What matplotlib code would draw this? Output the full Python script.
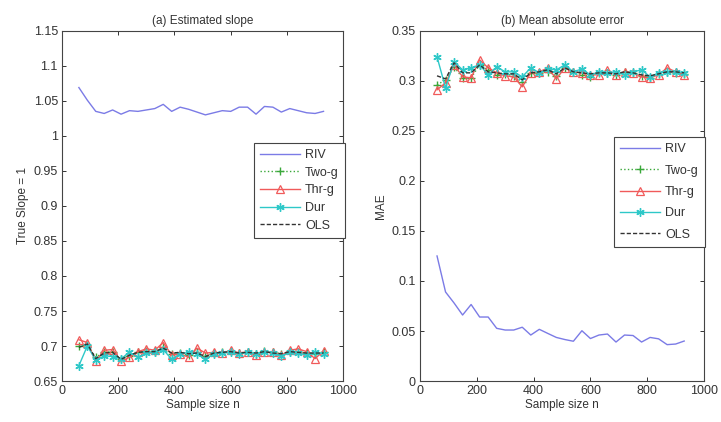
import matplotlib
matplotlib.use("Agg")
import matplotlib.pyplot as plt
from matplotlib.ticker import FixedLocator, FixedFormatter

plt.rcParams['font.family'] = ['Liberation Sans', 'DejaVu Sans']

n = list(range(60, 931, 30))

# (a) Estimated slope
slope_riv = [1.069, 1.051, 1.035, 1.032, 1.037, 1.031, 1.036, 1.035, 1.037, 1.039,
             1.045, 1.035, 1.041, 1.038, 1.034, 1.030, 1.033, 1.036, 1.035, 1.041,
             1.041, 1.031, 1.042, 1.041, 1.034, 1.039, 1.036, 1.033, 1.032, 1.035]
slope_two = [0.700, 0.701, 0.684, 0.691, 0.692, 0.681, 0.686, 0.691, 0.693, 0.692,
             0.698, 0.689, 0.690, 0.687, 0.691, 0.686, 0.690, 0.691, 0.693, 0.690,
             0.691, 0.689, 0.693, 0.691, 0.689, 0.692, 0.692, 0.690, 0.689, 0.691]
slope_thr = [0.709, 0.705, 0.678, 0.694, 0.695, 0.678, 0.684, 0.692, 0.696, 0.694,
             0.705, 0.687, 0.689, 0.684, 0.697, 0.690, 0.691, 0.690, 0.694, 0.690,
             0.692, 0.687, 0.691, 0.691, 0.687, 0.694, 0.696, 0.692, 0.682, 0.693]
slope_dur = [0.672, 0.700, 0.680, 0.686, 0.685, 0.682, 0.691, 0.684, 0.690, 0.691,
             0.695, 0.681, 0.689, 0.691, 0.689, 0.681, 0.689, 0.690, 0.691, 0.689,
             0.691, 0.689, 0.692, 0.690, 0.686, 0.691, 0.690, 0.687, 0.691, 0.689]
slope_ols = [0.698, 0.703, 0.682, 0.690, 0.691, 0.681, 0.687, 0.691, 0.692, 0.692,
             0.697, 0.690, 0.691, 0.689, 0.690, 0.685, 0.690, 0.691, 0.692, 0.690,
             0.691, 0.690, 0.692, 0.690, 0.689, 0.692, 0.691, 0.690, 0.690, 0.690]

# (b) Mean absolute error
mae_riv = [0.125, 0.089, 0.078, 0.066, 0.0765, 0.064, 0.064, 0.0527, 0.051, 0.051,
           0.0538, 0.046, 0.0517, 0.0476, 0.0436, 0.0415, 0.0398, 0.0503, 0.0425, 0.046,
           0.047, 0.039, 0.046, 0.0455, 0.039, 0.0436, 0.0422, 0.0364, 0.037, 0.040]
mae_two = [0.296, 0.301, 0.314, 0.303, 0.303, 0.316, 0.311, 0.306, 0.307, 0.305,
           0.299, 0.308, 0.308, 0.309, 0.305, 0.313, 0.309, 0.306, 0.304, 0.308,
           0.308, 0.306, 0.309, 0.308, 0.305, 0.303, 0.307, 0.309, 0.308, 0.307]
mae_thr = [0.291, 0.298, 0.316, 0.304, 0.303, 0.321, 0.313, 0.308, 0.305, 0.304,
           0.294, 0.308, 0.309, 0.313, 0.302, 0.313, 0.309, 0.308, 0.306, 0.306,
           0.311, 0.306, 0.309, 0.308, 0.304, 0.303, 0.306, 0.313, 0.309, 0.306]
mae_dur = [0.324, 0.293, 0.319, 0.311, 0.313, 0.316, 0.306, 0.314, 0.309, 0.309,
           0.304, 0.313, 0.308, 0.312, 0.311, 0.316, 0.309, 0.312, 0.306, 0.309,
           0.308, 0.309, 0.306, 0.309, 0.311, 0.304, 0.308, 0.309, 0.309, 0.308]
mae_ols = [0.305, 0.302, 0.318, 0.308, 0.308, 0.316, 0.309, 0.308, 0.307, 0.307,
           0.301, 0.308, 0.309, 0.311, 0.307, 0.313, 0.309, 0.308, 0.307, 0.308,
           0.308, 0.307, 0.309, 0.308, 0.306, 0.305, 0.307, 0.309, 0.309, 0.308]

labels = ["RIV", "Two-g", "Thr-g", "Dur", "OLS"]
x_ticks = [0, 200, 400, 600, 800, 1000]
a_ticks = [0.65, 0.7, 0.75, 0.8, 0.85, 0.9, 0.95, 1.0, 1.05, 1.1, 1.15]
a_ticklabels = ["0.65", "0.7", "0.75", "0.8", "0.85", "0.9", "0.95", "1", "1.05", "1.1", "1.15"]
b_ticks = [0, 0.05, 0.1, 0.15, 0.2, 0.25, 0.3, 0.35]
b_ticklabels = ["0", "0.05", "0.1", "0.15", "0.2", "0.25", "0.3", "0.35"]

c_riv = "#7b7be6"
c_two = "#3aa83a"
c_thr = "#f05a5a"
c_dur = "#2ec8c8"
c_ols = "#333333"

fig = plt.figure(figsize=(7.21, 4.22), dpi=100)
ax1 = fig.add_axes([0.086, 0.097, 0.390, 0.830])
ax2 = fig.add_axes([0.5825, 0.097, 0.394, 0.830])


def draw(ax, riv, two, thr, dur, ols):
    ax.plot(n, riv, color=c_riv, lw=1.0, label=labels[0])
    ax.plot(n, two, color=c_two, lw=1.0, ls=":", marker="+", ms=6, mew=1.0, label=labels[1])
    ax.plot(n, thr, color=c_thr, lw=1.0, marker="^", ms=6, mfc="none", mew=0.9, label=labels[2])
    ax.plot(n, dur, color=c_dur, lw=1.0, marker=(6, 2, 0), ms=6, mew=1.0, label=labels[3])
    ax.plot(n, ols, color=c_ols, lw=1.0, ls="--", dashes=(3, 1.5), label=labels[4])


draw(ax1, slope_riv, slope_two, slope_thr, slope_dur, slope_ols)
draw(ax2, mae_riv, mae_two, mae_thr, mae_dur, mae_ols)

for ax, ticks, tl, ylim in [(ax1, a_ticks, a_ticklabels, (0.65, 1.15)),
                            (ax2, b_ticks, b_ticklabels, (0, 0.35))]:
    ax.set_xlim(0, 1000)
    ax.set_ylim(*ylim)
    ax.xaxis.set_major_locator(FixedLocator(x_ticks))
    ax.yaxis.set_major_locator(FixedLocator(ticks))
    ax.yaxis.set_major_formatter(FixedFormatter(tl))
    ax.tick_params(direction="in", top=True, right=True, length=3, width=0.7,
                   labelsize=9, colors="#333333", pad=3)
    for s in ax.spines.values():
        s.set_color("#444444")
        s.set_linewidth(0.8)
    ax.set_xlabel("Sample size n", fontsize=8.5, color="#333333", labelpad=1)

ax1.set_title("(a) Estimated slope", fontsize=8.5, color="#333333", pad=5)
ax2.set_title("(b) Mean absolute error", fontsize=8.5, color="#333333", pad=5)
ax1.set_ylabel("True Slope = 1", fontsize=8.5, color="#333333", labelpad=3)
ax2.set_ylabel("MAE", fontsize=8.5, color="#333333", labelpad=3)

leg_kw = dict(fontsize=9, handlelength=3.2, handletextpad=0.4, borderpad=0.5,
              fancybox=False, framealpha=1, edgecolor="#444444",
              loc="upper right", borderaxespad=0)
l1 = ax1.legend(bbox_to_anchor=(1.007, 0.68), labelspacing=0.45, **leg_kw)
l2 = ax2.legend(bbox_to_anchor=(1.004, 0.697), labelspacing=0.75, **leg_kw)
for l in (l1, l2):
    l.get_frame().set_linewidth(0.8)
    for t in l.get_texts():
        t.set_color("#333333")

fig.savefig("out.png", dpi=100)
